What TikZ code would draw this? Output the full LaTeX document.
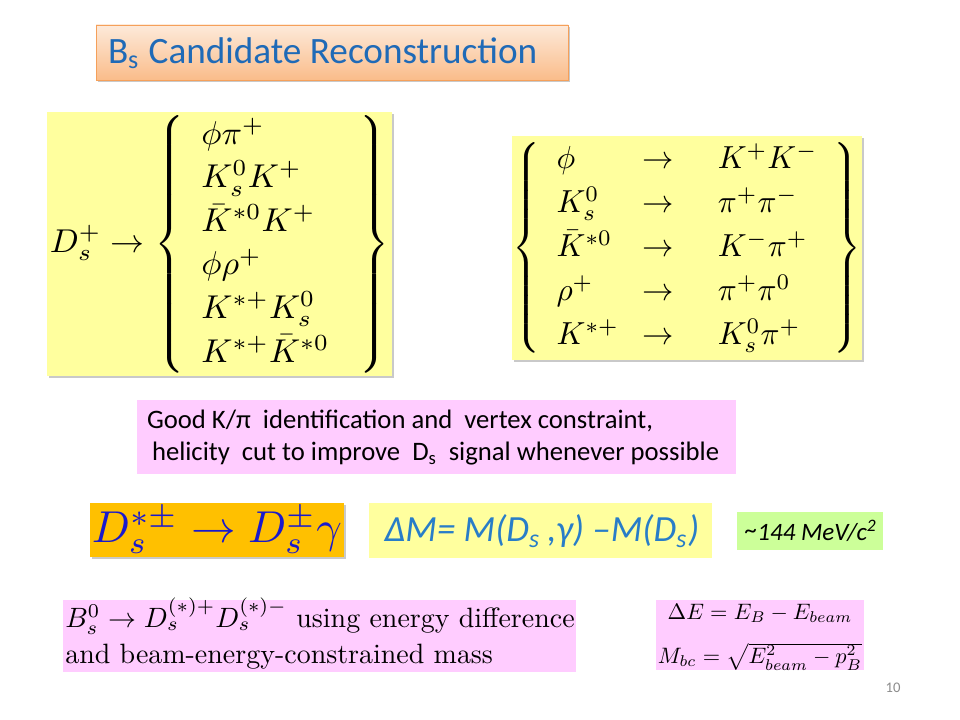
\documentclass[tikz,border=0pt]{standalone}
\usepackage[no-math]{fontspec}
\setmainfont{Carlito}
\newfontfamily\lmr{Latin Modern Roman}
\usepackage{amsmath}
\usepackage{graphicx}
\usetikzlibrary{shadows}
\definecolor{titletop}{RGB}{253,234,218}
\definecolor{titlebot}{RGB}{250,188,138}
\definecolor{titleedge}{RGB}{245,160,90}
\definecolor{titleblue}{RGB}{31,106,183}
\definecolor{lightyellow}{RGB}{255,255,158}
\definecolor{lightpink}{RGB}{255,204,255}
\definecolor{amber}{RGB}{255,192,0}
\definecolor{lightgreen}{RGB}{204,255,153}
\definecolor{dmblue}{RGB}{40,125,200}
\definecolor{mathblue}{RGB}{25,25,205}
\definecolor{pagegray}{RGB}{140,140,140}
\begin{document}
\begin{tikzpicture}[x=0.75pt,y=-0.75pt,
  panel/.style={inner sep=0pt, outer sep=0pt, anchor=north west, draw=none},
  shad/.style={drop shadow={shadow xshift=1.5pt, shadow yshift=-1.8pt, opacity=0.35, fill=black!60}},
  txt/.style={inner sep=0pt, outer sep=0pt},
  notefont/.style={font=\fontsize{20}{24}\selectfont}]
\useasboundingbox[fill=white] (0,0) rectangle (960,720);

% panels
\node[panel, shad, top color=titletop, bottom color=titlebot, draw=titleedge, line width=0.6pt,
  minimum width=354pt, minimum height=41.25pt] (titlebox) at (96,25) {};
\node[panel, shad, fill=lightyellow, minimum width=258.75pt, minimum height=198pt] (leftbox) at (47,112) {};
\node[panel, shad, fill=lightyellow, minimum width=262.5pt, minimum height=168pt] (rightbox) at (512,136) {};
\node[panel, fill=lightpink, minimum width=449.25pt, minimum height=55.5pt] (notebox) at (137,400) {};
\node[panel, shad, fill=amber, minimum width=190.5pt, minimum height=40.5pt] (dsbox) at (90,503) {};
\node[panel, fill=lightyellow, minimum width=257.25pt, minimum height=41.25pt] (dmbox) at (369,503) {};
\node[panel, fill=lightgreen, minimum width=109.5pt, minimum height=28.5pt] (gbox) at (737,512) {};
\node[panel, fill=lightpink, minimum width=384.75pt, minimum height=54pt] (blbox) at (63,600) {};
\node[panel, fill=lightpink, minimum width=156pt, minimum height=52.5pt] (brbox) at (656,600) {};

% title
\node[txt, anchor=west, text=titleblue] (title) at (108,53)
  {\resizebox{322pt}{!}{B\textsubscript{s} Candidate Reconstruction}};

% left decay list
\node[txt] (leftmath) at (220,244.5) {\resizebox*{255pt}{196pt}{\renewcommand{\arraystretch}{1.1}$\displaystyle
  D_s^+ \to \left\{ \begin{array}{l@{\hspace{9pt}}}
  \phi\pi^+ \\ K_s^0K^+ \\ \bar K^{*0}K^+ \\ \phi\rho^+ \\ K^{*+}K_s^0 \\ K^{*+}\bar K^{*0}
  \end{array} \right\}$}};

% right decay list
\node[txt] (rightmath) at (687,248) {\resizebox*{261pt}{165pt}{\renewcommand{\arraystretch}{1.15}$\displaystyle
  \left\{ \begin{array}{l@{\hspace{7.5pt}}c@{\hspace{14pt}}l}
  \phi & \to & K^+K^- \\
  K_s^0 & \to & \pi^+\pi^- \\
  \bar K^{*0} & \to & K^-\pi^+ \\
  \rho^+ & \to & \pi^+\pi^0 \\
  K^{*+} & \to & K_s^0\pi^+
  \end{array} \right\}$}};

% note
\node[txt, anchor=base west, notefont] (note1) at (147,428)
  {Good K/π\ \ identification and\ \ vertex constraint,};
\node[txt, anchor=base west, notefont] (note2) at (152,460)
  {helicity\ \ cut to improve\ \ D\textsubscript{s}\ \ signal whenever possible};

% Ds* decay
\node[txt, text=mathblue] (dsmath) at (217,530)
  {\resizebox{187.5pt}{!}{$D_s^{*\pm} \to D_s^{\pm}\gamma$}};

% Delta M
\node[txt, text=dmblue] (dmtext) at (542,531)
  {\resizebox{236pt}{!}{\itshape ΔM= M(D\textsubscript{s}\,,γ) –M(D\textsubscript{s})}};

% 144 MeV
\node[txt] (gtext) at (811,531)
  {\resizebox{99pt}{!}{\itshape \raisebox{0.15ex}{\textasciitilde}144 MeV/c\textsuperscript{2}}};

% Bs0 text
\node[txt] (bltext) at (320,636)
  {\resizebox{382pt}{!}{\lmr\begin{tabular}{@{}l@{}}
  $B_s^0 \to D_s^{(*)+}D_s^{(*)-}$\ using energy difference\\[1pt]
  and beam-energy-constrained mass\end{tabular}}};

% Delta E, Mbc
\node[txt] (brtext) at (760,636)
  {\resizebox{153pt}{!}{$\begin{array}{@{}c@{}}
  \Delta E = E_B - E_{beam}\\[7pt]
  M_{bc} = \sqrt{E_{beam}^2 - p_B^2}
  \end{array}$}};

% page number
\node[txt, text=pagegray, font=\fontsize{11}{12}\selectfont] (pagenum) at (893,688) {10};
\end{tikzpicture}
\end{document}
